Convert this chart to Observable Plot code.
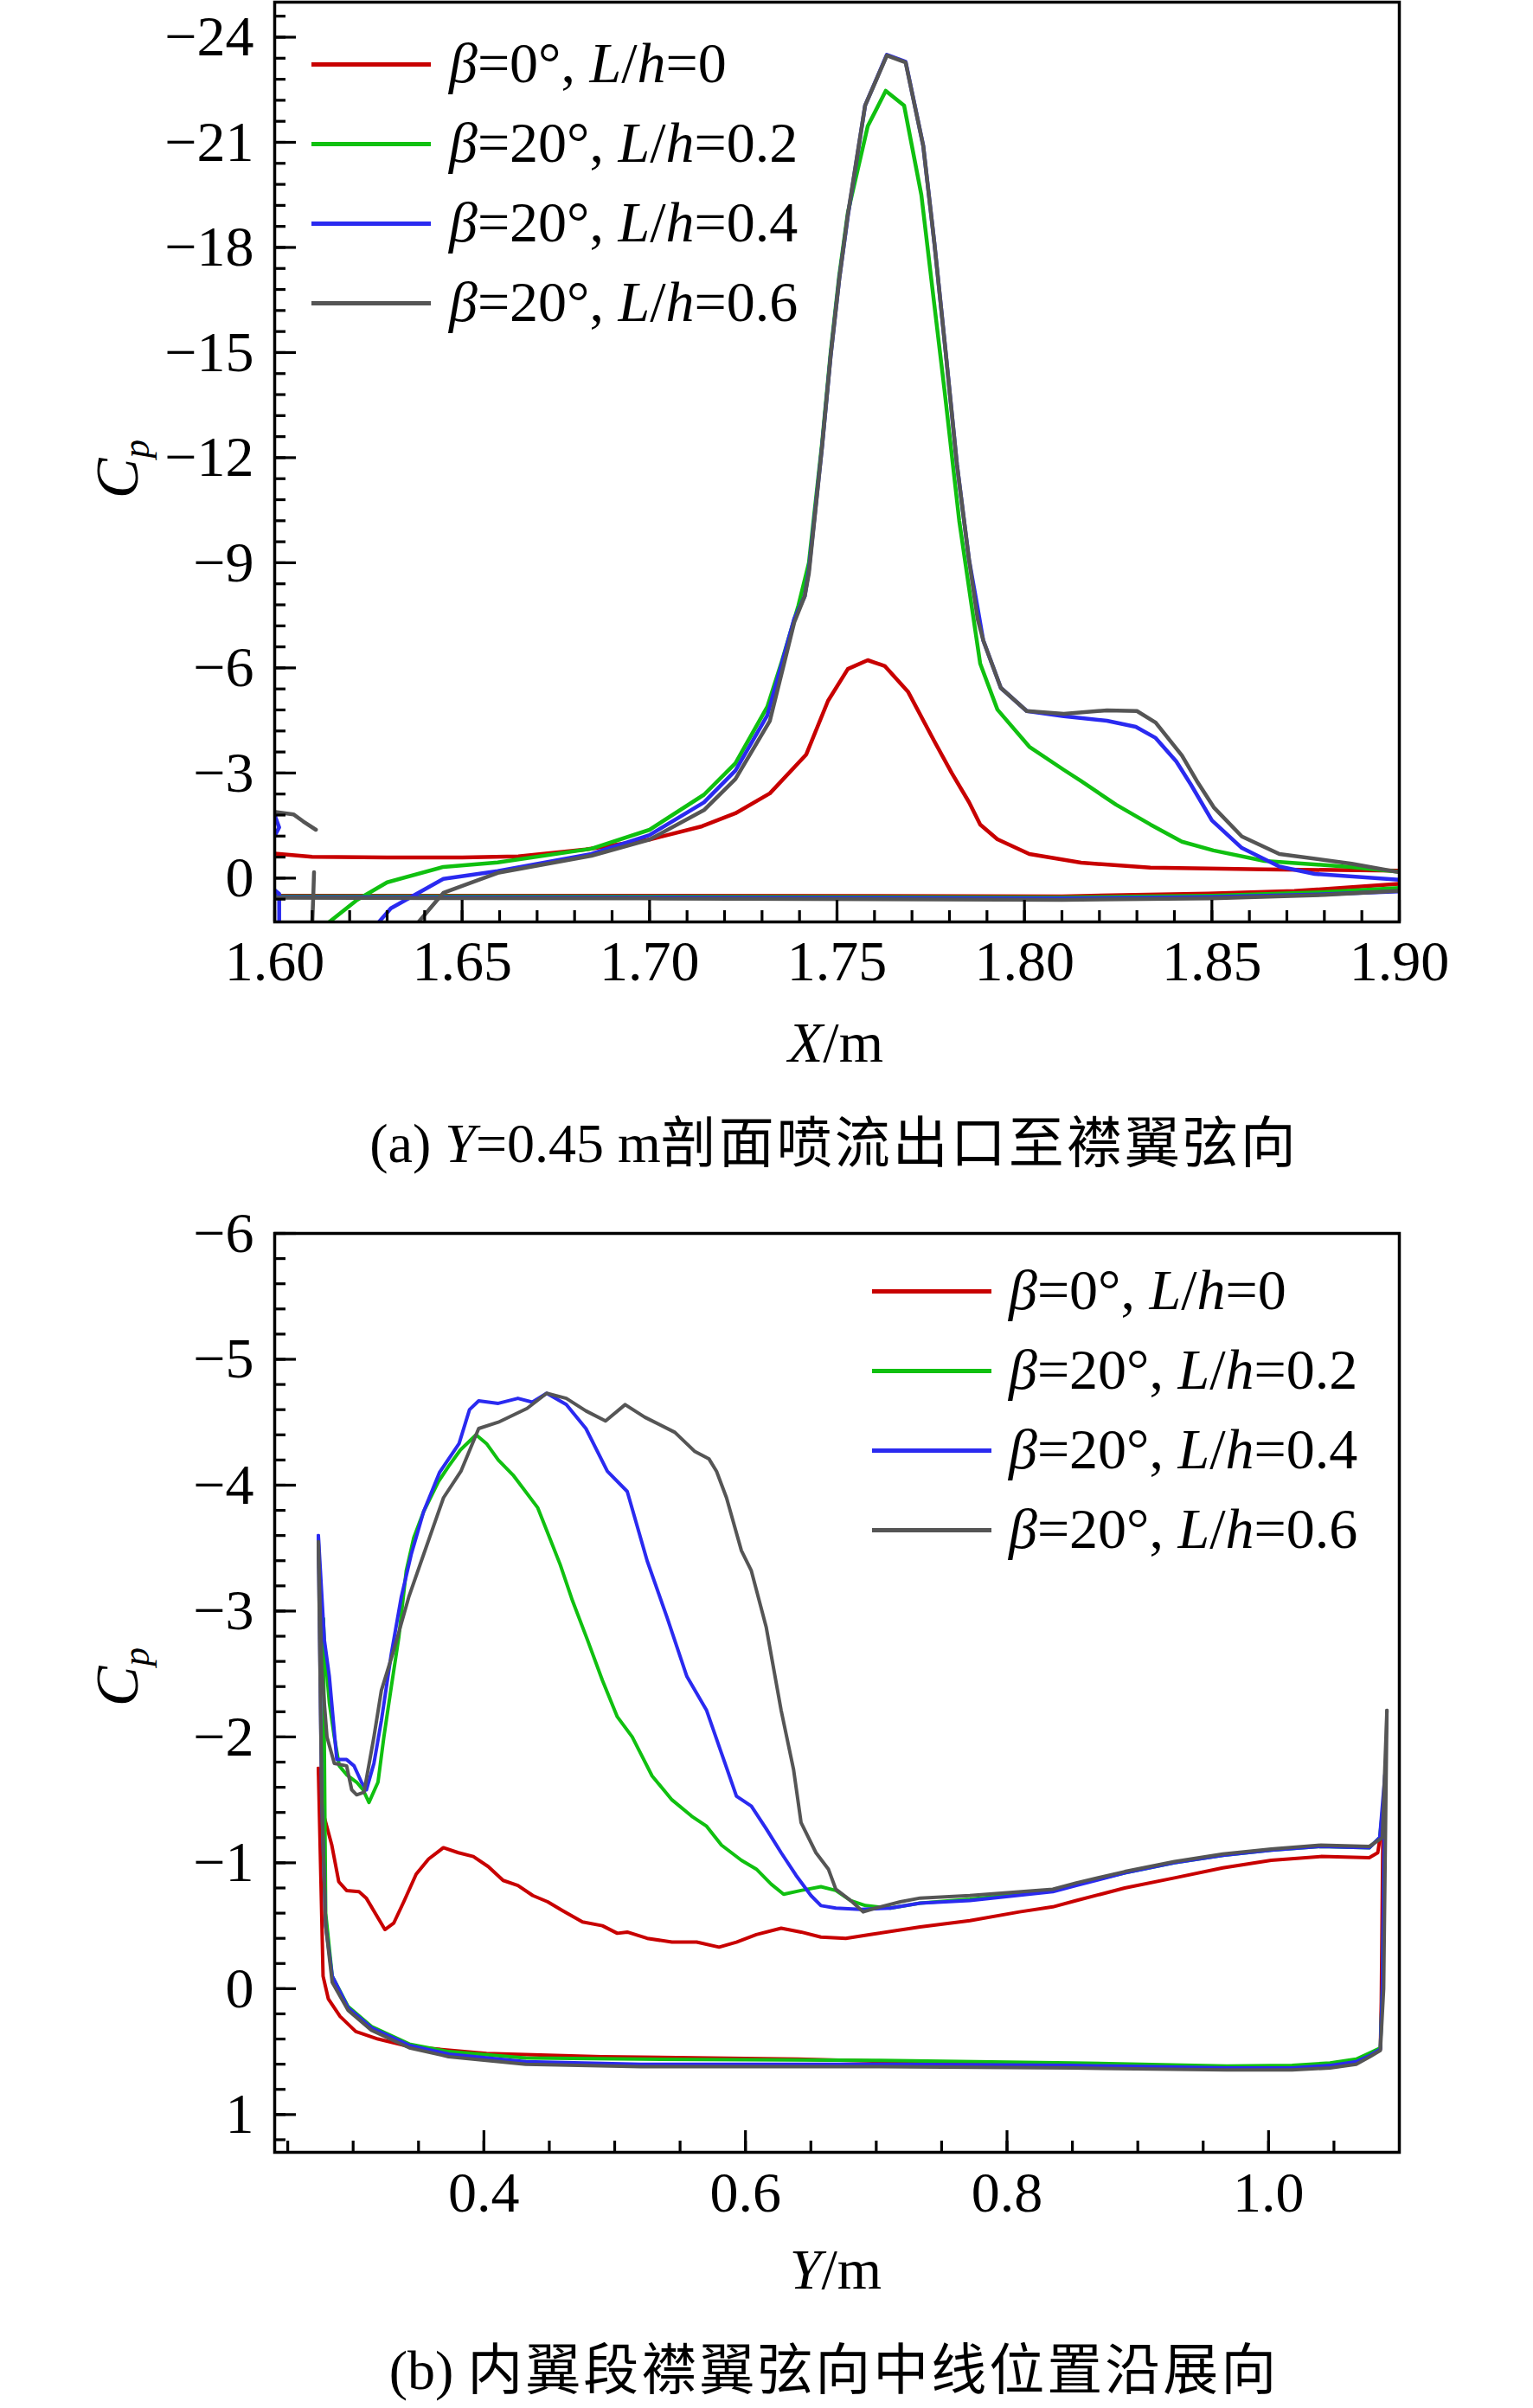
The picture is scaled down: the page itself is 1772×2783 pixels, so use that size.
<!DOCTYPE html>
<html><head><meta charset="utf-8">
<script src="https://cdn.jsdelivr.net/npm/d3@7"></script>
<script src="https://cdn.jsdelivr.net/npm/@observablehq/plot@0.6"></script>
<style>
body{margin:0;background:#fff;}
#page{position:relative;width:1772px;height:2783px;background:#fff;font-family:"Liberation Serif","Times New Roman",serif;color:#000;overflow:hidden;}
#page svg{position:absolute;left:0;}
.abs{position:absolute;white-space:nowrap;line-height:1;}
.leg{position:absolute;height:5px;}
.cjk{font-family:"Noto Sans CJK SC",sans-serif;font-size:64px;letter-spacing:3px;line-height:1;}
</style></head><body><div id="page"></div>
<script>
// ---------- colours / series names ----------
const seriesNames = ["β=0°, L/h=0", "β=20°, L/h=0.2", "β=20°, L/h=0.4", "β=20°, L/h=0.6"];
const seriesColors = ["#c80000", "#10c010", "#2a2af0", "#555555"];

// ---------- (a) top chart: X (m), Cp ----------
const topXTicks = [1.60, 1.65, 1.70, 1.75, 1.80, 1.85, 1.90];
const topYTicks = [-24, -21, -18, -15, -12, -9, -6, -3, 0];

const topRedUpper = [[1.598,-0.72],[1.60,-0.70],[1.61,-0.61],[1.63,-0.59],[1.65,-0.59],[1.665,-0.62],[1.683,-0.82],[1.70,-1.1],[1.714,-1.48],[1.7229,-1.85],[1.7321,-2.42],[1.7418,-3.53],[1.7476,-5.06],[1.7529,-5.97],[1.7582,-6.22],[1.7628,-6.05],[1.769,-5.31],[1.776,-3.9],[1.7806,-3.0],[1.7852,-2.17],[1.7882,-1.53],[1.7928,-1.11],[1.8013,-0.69],[1.8151,-0.44],[1.8336,-0.3],[1.864,-0.25],[1.902,-0.21]];
const topRedLower = [[1.598,0.5],[1.70,0.5],[1.81,0.52],[1.849,0.44],[1.872,0.37],[1.902,0.15]];

const topGreenUpper = [[1.6134,1.35],[1.622,0.62],[1.630,0.12],[1.645,-0.32],[1.6595,-0.45],[1.6845,-0.84],[1.70,-1.38],[1.7145,-2.38],[1.7229,-3.28],[1.7314,-4.89],[1.7351,-6.12],[1.7397,-7.78],[1.7425,-9.0],[1.746,-12.4],[1.7483,-15.0],[1.7506,-17.2],[1.7529,-19.0],[1.7582,-21.46],[1.763,-22.47],[1.7679,-22.05],[1.7725,-19.5],[1.7757,-16.6],[1.7787,-13.9],[1.7826,-10.2],[1.7859,-7.78],[1.7882,-6.12],[1.7928,-4.81],[1.8013,-3.75],[1.8105,-3.09],[1.8151,-2.77],[1.8244,-2.1],[1.8336,-1.53],[1.842,-1.04],[1.8504,-0.79],[1.864,-0.49],[1.887,-0.32],[1.902,-0.16]];
const topGreenLower = [[1.598,0.52],[1.70,0.53],[1.81,0.55],[1.85,0.5],[1.88,0.4],[1.902,0.27]];

const topBlueUpper = [[1.627,1.35],[1.631,0.86],[1.645,0.02],[1.6595,-0.2],[1.6845,-0.69],[1.70,-1.23],[1.7145,-2.16],[1.7229,-3.07],[1.7314,-4.64],[1.7386,-7.4],[1.7414,-8.05],[1.7425,-8.8],[1.746,-12.3],[1.7483,-14.9],[1.7506,-17.1],[1.7529,-18.9],[1.7575,-22.05],[1.7633,-23.5],[1.7683,-23.3],[1.773,-20.9],[1.776,-18.1],[1.779,-15.0],[1.782,-11.8],[1.7852,-9.1],[1.7874,-7.78],[1.789,-6.79],[1.7937,-5.43],[1.8006,-4.77],[1.8105,-4.62],[1.822,-4.49],[1.8297,-4.32],[1.835,-4.0],[1.8405,-3.33],[1.8444,-2.67],[1.850,-1.65],[1.858,-0.86],[1.868,-0.33],[1.8774,-0.12],[1.902,0.06]];
const topBlueLower = [[1.598,0.54],[1.70,0.55],[1.81,0.58],[1.85,0.54],[1.88,0.46],[1.902,0.37]];
const topBlueEdgeA = [[1.5995,-1.95],[1.6012,-1.45],[1.5995,-1.1]];
const topBlueEdgeB = [[1.5995,0.3],[1.6012,0.45],[1.6012,1.35]];

const topGrayUpper = [[1.6376,1.35],[1.645,0.42],[1.6595,-0.15],[1.6845,-0.64],[1.70,-1.1],[1.7145,-1.94],[1.7229,-2.83],[1.7321,-4.49],[1.7386,-7.3],[1.7414,-8.05],[1.7425,-8.7],[1.746,-12.3],[1.7483,-14.9],[1.7506,-17.1],[1.7529,-18.94],[1.7575,-22.05],[1.7633,-23.48],[1.7683,-23.28],[1.773,-20.9],[1.776,-18.1],[1.779,-15.0],[1.782,-11.8],[1.7852,-9.1],[1.7875,-7.4],[1.789,-6.79],[1.7937,-5.43],[1.8006,-4.77],[1.8105,-4.69],[1.822,-4.79],[1.830,-4.77],[1.835,-4.44],[1.842,-3.5],[1.846,-2.77],[1.8505,-2.02],[1.858,-1.19],[1.868,-0.69],[1.8873,-0.41],[1.902,-0.13]];
const topGrayLower = [[1.598,0.56],[1.70,0.58],[1.81,0.62],[1.85,0.58],[1.88,0.48],[1.902,0.35]];
const topGrayEdgeA = [[1.5995,-1.9],[1.605,-1.82],[1.6076,-1.62],[1.611,-1.38]];
const topGrayEdgeB = [[1.6105,-0.17],[1.6103,0.5],[1.6100,1.35]];

// ---------- (b) bottom chart: Y (m), Cp ----------
const botXTicks = [0.4, 0.6, 0.8, 1.0];
const botYTicks = [-6, -5, -4, -3, -2, -1, 0, 1];

const botRedUpper = [[0.2734,-1.75],[0.278,-1.36],[0.2837,-1.14],[0.289,-0.85],[0.295,-0.78],[0.3045,-0.77],[0.31,-0.72],[0.318,-0.58],[0.3243,-0.47],[0.331,-0.52],[0.3387,-0.69],[0.3482,-0.91],[0.3577,-1.03],[0.369,-1.12],[0.3805,-1.08],[0.3919,-1.05],[0.4033,-0.97],[0.4147,-0.86],[0.426,-0.82],[0.4374,-0.74],[0.4488,-0.69],[0.4602,-0.62],[0.4754,-0.53],[0.4906,-0.5],[0.502,-0.44],[0.5096,-0.45],[0.5248,-0.4],[0.5438,-0.37],[0.5627,-0.37],[0.5798,-0.33],[0.5931,-0.37],[0.6083,-0.43],[0.6273,-0.48],[0.6425,-0.45],[0.6577,-0.41],[0.6767,-0.40],[0.6956,-0.43],[0.7336,-0.49],[0.7716,-0.54],[0.8095,-0.61],[0.835,-0.65],[0.853,-0.7],[0.89,-0.8],[0.928,-0.88],[0.965,-0.96],[1.002,-1.02],[1.04,-1.05],[1.077,-1.04],[1.0835,-1.08],[1.0875,-1.35]];
const botRedLower = [[1.0875,-1.35],[1.0862,0.1],[1.0855,0.48],[1.0775,0.52],[1.067,0.58],[1.047,0.61],[1.018,0.63],[0.968,0.63],[0.85,0.61],[0.75,0.59],[0.64,0.56],[0.49,0.54],[0.402,0.515],[0.343,0.46],[0.319,0.4],[0.302,0.34],[0.29,0.22],[0.281,0.08],[0.277,-0.1],[0.2755,-0.8],[0.2734,-1.75]];

const botGreenUpper = [[0.2772,-2.94],[0.278,-2.74],[0.2818,-2.27],[0.2856,-2.0],[0.2894,-1.77],[0.295,-1.70],[0.3027,-1.64],[0.3076,-1.58],[0.3121,-1.48],[0.319,-1.64],[0.3235,-2.0],[0.3292,-2.4],[0.3349,-2.79],[0.3406,-3.32],[0.3463,-3.58],[0.3539,-3.79],[0.3653,-4.03],[0.373,-4.15],[0.382,-4.28],[0.394,-4.4],[0.402,-4.33],[0.411,-4.2],[0.4223,-4.08],[0.4412,-3.82],[0.4583,-3.37],[0.4678,-3.08],[0.4792,-2.77],[0.4906,-2.45],[0.502,-2.16],[0.5134,-2.0],[0.5286,-1.69],[0.5438,-1.5],[0.5589,-1.37],[0.5703,-1.29],[0.5817,-1.14],[0.5969,-1.02],[0.6083,-0.95],[0.6197,-0.83],[0.6292,-0.75],[0.6425,-0.78],[0.6577,-0.81],[0.6691,-0.78],[0.6805,-0.70],[0.6918,-0.66],[0.7108,-0.64],[0.7336,-0.68],[0.7716,-0.71],[0.835,-0.78],[0.853,-0.83],[0.89,-0.92],[0.928,-1.0],[0.965,-1.06],[1.002,-1.1],[1.04,-1.13],[1.077,-1.12],[1.085,-1.2],[1.089,-1.6]];
const botGreenLower = [[1.089,-1.6],[1.087,0.0],[1.0855,0.47],[1.0775,0.51],[1.067,0.56],[1.047,0.59],[1.018,0.61],[0.968,0.615],[0.85,0.59],[0.7,0.57],[0.52,0.56],[0.432,0.55],[0.373,0.5],[0.343,0.44],[0.314,0.3],[0.296,0.14],[0.284,-0.1],[0.279,-0.6],[0.2772,-2.94]];

const botBlueUpper = [[0.2734,-3.6],[0.278,-2.77],[0.2818,-2.48],[0.2875,-1.82],[0.295,-1.82],[0.3007,-1.77],[0.3064,-1.64],[0.3102,-1.58],[0.3159,-1.79],[0.3216,-2.13],[0.3292,-2.66],[0.3368,-3.11],[0.3444,-3.45],[0.3539,-3.79],[0.366,-4.1],[0.381,-4.33],[0.389,-4.6],[0.396,-4.67],[0.411,-4.65],[0.426,-4.69],[0.437,-4.66],[0.448,-4.73],[0.463,-4.64],[0.478,-4.45],[0.4944,-4.11],[0.5096,-3.95],[0.5248,-3.4],[0.54,-2.95],[0.5552,-2.48],[0.5703,-2.21],[0.5817,-1.87],[0.5931,-1.53],[0.6045,-1.45],[0.6159,-1.27],[0.6273,-1.08],[0.6387,-0.9],[0.6501,-0.74],[0.6577,-0.66],[0.6691,-0.64],[0.688,-0.63],[0.7108,-0.64],[0.7336,-0.68],[0.7716,-0.70],[0.835,-0.77],[0.853,-0.82],[0.89,-0.92],[0.928,-1.0],[0.965,-1.06],[1.002,-1.1],[1.04,-1.13],[1.077,-1.12],[1.085,-1.2],[1.089,-1.7]];
const botBlueLower = [[1.089,-1.7],[1.087,0.0],[1.0855,0.48],[1.0775,0.53],[1.067,0.58],[1.047,0.61],[1.018,0.63],[0.968,0.63],[0.85,0.61],[0.7,0.6],[0.52,0.6],[0.432,0.58],[0.373,0.52],[0.343,0.45],[0.314,0.31],[0.296,0.15],[0.284,-0.1],[0.279,-0.5],[0.276,-1.5],[0.2734,-3.6]];

const botGrayUpper = [[0.2734,-3.55],[0.276,-2.53],[0.28,-2.0],[0.2856,-1.79],[0.295,-1.77],[0.2989,-1.58],[0.3027,-1.54],[0.3083,-1.56],[0.3159,-2.0],[0.3216,-2.37],[0.3311,-2.69],[0.3425,-3.11],[0.3539,-3.45],[0.3691,-3.9],[0.3824,-4.11],[0.396,-4.45],[0.411,-4.5],[0.433,-4.61],[0.448,-4.73],[0.463,-4.69],[0.478,-4.59],[0.493,-4.51],[0.508,-4.64],[0.523,-4.54],[0.546,-4.42],[0.561,-4.27],[0.572,-4.21],[0.5779,-4.11],[0.5855,-3.9],[0.5969,-3.48],[0.6045,-3.32],[0.6159,-2.87],[0.6273,-2.21],[0.6368,-1.74],[0.6425,-1.32],[0.6539,-1.08],[0.6634,-0.95],[0.6691,-0.79],[0.6805,-0.70],[0.69,-0.61],[0.6994,-0.64],[0.7184,-0.69],[0.7336,-0.72],[0.7716,-0.74],[0.835,-0.79],[0.853,-0.84],[0.89,-0.93],[0.928,-1.01],[0.965,-1.07],[1.002,-1.11],[1.04,-1.14],[1.077,-1.13],[1.087,-1.2],[1.0905,-2.21]];
const botGrayLower = [[1.0905,-2.21],[1.088,0.0],[1.0855,0.49],[1.0775,0.54],[1.067,0.6],[1.047,0.63],[1.018,0.645],[0.968,0.645],[0.85,0.63],[0.7,0.62],[0.52,0.62],[0.432,0.6],[0.373,0.54],[0.343,0.47],[0.314,0.33],[0.296,0.17],[0.284,-0.05],[0.279,-0.5],[0.276,-1.5],[0.2734,-3.55]];

// ---------- helpers ----------
const LW = 4.5;
function seg(arr, ci, w) {
  return Plot.line(arr, {x: d => d[0], y: d => d[1], stroke: seriesColors[ci], strokeWidth: w || LW, clip: true, strokeLinejoin: "round"});
}
function ticksMarks(xMajor, xMinor, yMajor, yMinor, fw, fh) {
  const big = 25, small = 13, sw = 3.2;
  return [
    Plot.ruleX(xMinor, {x: d => d, insetTop: fh - small, stroke: "#000", strokeWidth: sw}),
    Plot.ruleX(xMajor, {x: d => d, insetTop: fh - big, stroke: "#000", strokeWidth: sw}),
    Plot.ruleY(yMinor, {y: d => d, insetRight: fw - small, stroke: "#000", strokeWidth: sw}),
    Plot.ruleY(yMajor, {y: d => d, insetRight: fw - big, stroke: "#000", strokeWidth: sw})
  ];
}
const page = document.getElementById("page");
const W = 1772, ML = 317, MR = 155;
const FONT = "'Liberation Serif','Times New Roman',serif";

// ---------- top plot ----------
{
  const H = 1180, MT = 2, MB = 115;
  const fw = W - ML - MR, fh = H - MT - MB;
  const xMinor = d3.range(160, 191).map(i => i / 100);
  const yMinor = d3.range(-41, 2).map(i => i * 0.6);
  const svg = Plot.plot({
    width: W, height: H, marginLeft: ML, marginRight: MR, marginTop: MT, marginBottom: MB,
    style: {fontFamily: FONT, fontSize: "66px", background: "transparent", overflow: "visible", color: "#000"},
    x: {domain: [1.6, 1.9]},
    y: {domain: [1.25, -25]},
    marks: [
      seg(topRedLower, 0), seg(topRedUpper, 0),
      seg(topGreenLower, 1), seg(topGreenUpper, 1),
      seg(topBlueLower, 2), seg(topBlueUpper, 2), seg(topBlueEdgeA, 2), seg(topBlueEdgeB, 2),
      seg(topGrayLower, 3), seg(topGrayUpper, 3), seg(topGrayEdgeA, 3), seg(topGrayEdgeB, 3),
      ...ticksMarks(topXTicks, xMinor, topYTicks, yMinor, fw, fh),
      Plot.axisX({ticks: topXTicks, tickSize: 0, tickPadding: 21, tickFormat: d3.format(".2f"), label: null, fill: "#000"}),
      Plot.axisY({ticks: topYTicks, tickSize: 0, tickPadding: 24, tickFormat: d3.format("d"), label: null, fill: "#000"}),
      Plot.frame({stroke: "#000", strokeWidth: 3.5})
    ]
  });
  svg.style.top = "0px";
  page.appendChild(svg);
}

// ---------- bottom plot ----------
{
  const TOP = 1380, H = 1217, MT = 45, MB = 110;
  const fw = W - ML - MR, fh = H - MT - MB;
  const xMinor = d3.range(5, 22).map(i => i * 0.05);
  const yMinor = d3.range(-30, 7).map(i => i * 0.2);
  const svg = Plot.plot({
    width: W, height: H, marginLeft: ML, marginRight: MR, marginTop: MT, marginBottom: MB,
    style: {fontFamily: FONT, fontSize: "66px", background: "transparent", overflow: "visible", color: "#000"},
    x: {domain: [0.24, 1.10]},
    y: {domain: [1.3, -6]},
    marks: [
      seg(botRedLower, 0, 4), seg(botRedUpper, 0, 4),
      seg(botGreenLower, 1, 4), seg(botGreenUpper, 1, 4),
      seg(botBlueLower, 2, 4), seg(botBlueUpper, 2, 4),
      seg(botGrayLower, 3, 4), seg(botGrayUpper, 3, 4),
      ...ticksMarks(botXTicks, xMinor, botYTicks, yMinor, fw, fh),
      Plot.axisX({ticks: botXTicks, tickSize: 0, tickPadding: 22, tickFormat: d3.format(".1f"), label: null, fill: "#000"}),
      Plot.axisY({ticks: botYTicks, tickSize: 0, tickPadding: 24, tickFormat: d3.format("d"), label: null, fill: "#000"}),
      Plot.frame({stroke: "#000", strokeWidth: 3.5})
    ]
  });
  svg.style.top = TOP + "px";
  page.appendChild(svg);
}

// ---------- legends, axis titles, captions (HTML text) ----------
function legendHTML(name) {
  const m = name.match(/^β=(.*?), L\/h=(.*)$/);
  return `<i>β</i>=${m[1]}, <i>L</i>/<i>h</i>=${m[2]}`;
}
function addLegend(x0, x1, xt, rows) {
  seriesNames.forEach((n, i) => {
    const line = document.createElement("div");
    line.className = "leg";
    line.style.cssText = `left:${x0}px;top:${rows[i] - 2.5}px;width:${x1 - x0}px;background:${seriesColors[i]};`;
    page.appendChild(line);
    const t = document.createElement("div");
    t.className = "abs";
    t.style.cssText = `left:${xt}px;top:${rows[i]}px;font-size:66px;transform:translateY(-52%);`;
    t.innerHTML = legendHTML(n);
    page.appendChild(t);
  });
}
addLegend(360, 498, 519, [74, 166, 258, 350]);
addLegend(1008, 1146, 1166, [1492, 1584, 1676, 1768]);

function addText(html, x, y, size, extra) {
  const t = document.createElement("div");
  t.className = "abs";
  t.style.cssText = `left:${x}px;top:${y}px;font-size:${size}px;transform:translate(-50%,-50%) ${extra || ""};`;
  t.innerHTML = html;
  page.appendChild(t);
}
addText("<i>X</i>/m", 966, 1205, 66);
addText("<i>Y</i>/m", 966, 2623, 66);
addText('<i>C</i><sub style="font-size:0.62em;vertical-align:-0.3em;"><i>p</i></sub>', 140, 542, 70, "rotate(-90deg)");
addText('<i>C</i><sub style="font-size:0.62em;vertical-align:-0.3em;"><i>p</i></sub>', 140, 1938, 70, "rotate(-90deg)");
addText('(a) <i>Y</i>=0.45 m<span class="cjk">剖面喷流出口至襟翼弦向</span>', 964, 1318, 64);
addText('(b) <span class="cjk">内翼段襟翼弦向中线位置沿展向</span>', 964, 2736, 64);
</script></body></html>
